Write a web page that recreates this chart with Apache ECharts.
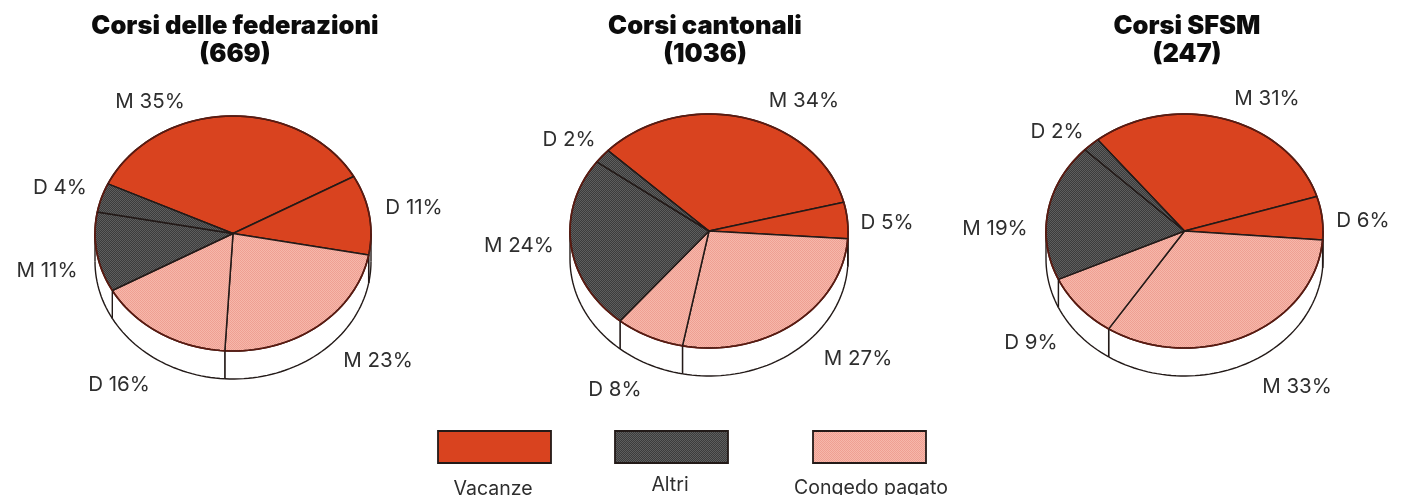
<!DOCTYPE html>
<html>
<head>
<meta charset="utf-8">
<style>
html,body{margin:0;padding:0;background:#fff}
#chart{width:1402px;height:495px}
</style>
<script src="https://cdn.jsdelivr.net/npm/echarts@6/dist/echarts.min.js"></script>
</head>
<body>
<div id="chart"></div>
<script>
// dati
var titles = ['Corsi delle federazioni\n(669)', 'Corsi cantonali\n(1036)', 'Corsi SFSM\n(247)'];
var sliceKinds = ['M', 'D', 'M', 'D', 'M', 'D'];
var sliceGroups = ['Vacanze', 'Vacanze', 'Congedo pagato', 'Congedo pagato', 'Altri', 'Altri'];
var federazioni = [35, 11, 23, 16, 11, 4];
var cantonali = [34, 5, 27, 8, 24, 2];
var sfsm = [31, 6, 33, 9, 19, 2];
var legendNames = ['Vacanze', 'Altri', 'Congedo pagato'];

// layout
var pies = [
    {cx: 233, cy: 233.5, rx: 138, ry: 117.5, depth: 28, start: -65, titleX: 230},
    {cx: 709, cy: 231, rx: 139, ry: 117, depth: 28, start: -46.6, titleX: 700},
    {cx: 1184.5, cy: 231, rx: 138.5, ry: 117, depth: 28, start: -38.8, titleX: 1182}
];
var labelPos = [
    [[150, 102], [414, 208], [378, 361], [119, 385], [47, 271], [60, 188]],
    [[804, 101], [887, 223], [858, 359], [615, 390], [519, 246], [569, 140]],
    [[1267, 99], [1363, 221], [1297, 387], [1031, 343], [995, 229], [1057, 132]]
];
var legendX = [438, 615, 813];
var legendTextX = [493, 670, 871];
var legendTextY = [489, 485, 488];

//retino di stampa
function dither(c1, c2) {
    var cv = document.createElement('canvas');
    cv.width = cv.height = 2;
    var g = cv.getContext('2d');
    g.fillStyle = c1;
    g.fillRect(0, 0, 2, 2);
    g.fillStyle = c2;
    g.fillRect(0, 0, 1, 1);
    g.fillRect(1, 1, 1, 1);
    return {image: cv, repeat: 'repeat'};
}
var fills = {
    'Vacanze': '#d9431f',
    'Altri': dither('#3c3c3c', '#5e5e5e'),
    'Congedo pagato': dither('#f6b8ab', '#ef9f92')
};
var edgeColor = '#5c1a10';
var lineColor = '#231a18';

function point(p, bearing, dy) {
    var a = bearing * Math.PI / 180;
    return [p.cx + p.rx * Math.sin(a), p.cy - p.ry * Math.cos(a) + (dy || 0)];
}

function arcPoints(p, from, to, dy) {
    var pts = [];
    var n = Math.max(2, Math.ceil(Math.abs(to - from) / 2));
    for (var i = 0; i <= n; i++) {
        pts.push(point(p, from + (to - from) * i / n, dy));
    }
    return pts;
}

function pieSeries(values, idx) {
    var p = pies[idx];
    return {
        type: 'custom',
        coordinateSystem: 'none',
        silent: true,
        animation: false,
        data: values.map(function (v) { return [v]; }),
        renderItem: function (params, api) {
            var i = params.dataIndex;
            var before = 0;
            for (var k = 0; k < i; k++) before += values[k];
            var a0 = p.start + before * 3.6;
            var a1 = a0 + api.value(0) * 3.6;
            var children = [];

            // parete frontale: bearing tra 90 e 270
            var w0 = Math.max(a0, 90), w1 = Math.min(a1, 270);
            if (w1 > w0) {
                var top = arcPoints(p, w0, w1, 0);
                var bottom = arcPoints(p, w1, w0, p.depth);
                var last = top.length - 1;
                children.push({
                    type: 'polygon',
                    shape: {points: top.concat(bottom)},
                    style: {fill: '#fff', stroke: null}
                });
                children.push({
                    type: 'polyline',
                    shape: {points: bottom},
                    style: {fill: null, stroke: lineColor, lineWidth: 1.4}
                });
                children.push({
                    type: 'line',
                    shape: {x1: top[last][0], y1: top[last][1], x2: bottom[0][0], y2: bottom[0][1]},
                    style: {stroke: lineColor, lineWidth: 1.4}
                });
                children.push({
                    type: 'line',
                    shape: {x1: top[0][0], y1: top[0][1], x2: bottom[last][0], y2: bottom[last][1]},
                    style: {stroke: lineColor, lineWidth: 1.4}
                });
            }

            var rim = arcPoints(p, a0, a1, 0);
            children.push({
                type: 'polygon',
                shape: {points: [[p.cx, p.cy]].concat(rim)},
                style: {fill: fills[sliceGroups[i]], stroke: lineColor, lineWidth: 1.5, lineJoin: 'round'}
            });
            children.push({
                type: 'polyline',
                shape: {points: rim},
                style: {fill: null, stroke: edgeColor, lineWidth: 1.7}
            });

            var pos = labelPos[idx][i];
            children.push({
                type: 'text',
                z2: 10,
                style: {
                    x: pos[0], y: pos[1],
                    text: sliceKinds[i] + ' ' + api.value(0) + '%',
                    fill: '#2e2e2e',
                    font: '20.5px Inter, sans-serif',
                    align: 'center', verticalAlign: 'middle'
                }
            });
            return {type: 'group', children: children};
        }
    };
}

var myChart = echarts.init(document.getElementById('chart'));
var swatchW = 113, swatchH = 32, swatchY = 431;

myChart.setOption({
    backgroundColor: '#fff',
    animation: false,
    title: titles.map(function (t, i) {
        return {
            text: t,
            left: pies[i].titleX,
            top: 7,
            textAlign: 'center',
            textStyle: {
                fontFamily: 'Inter',
                fontWeight: 900,
                fontSize: 25.5,
                lineHeight: 28,
                color: '#0c0c0c'
            }
        };
    }),
    graphic: legendNames.map(function (name, i) {
        return {
            type: 'group',
            silent: true,
            children: [
                {
                    type: 'rect',
                    shape: {x: legendX[i], y: swatchY, width: swatchW, height: swatchH},
                    style: {fill: fills[name], stroke: lineColor, lineWidth: 1.8}
                },
                {
                    type: 'text',
                    style: {
                        x: legendTextX[i], y: legendTextY[i],
                        text: name,
                        fill: '#2e2e2e',
                        font: '19.5px Inter, sans-serif',
                        align: 'center', verticalAlign: 'middle'
                    }
                }
            ]
        };
    }),
    series: [federazioni, cantonali, sfsm].map(pieSeries)
});
</script>
</body>
</html>
